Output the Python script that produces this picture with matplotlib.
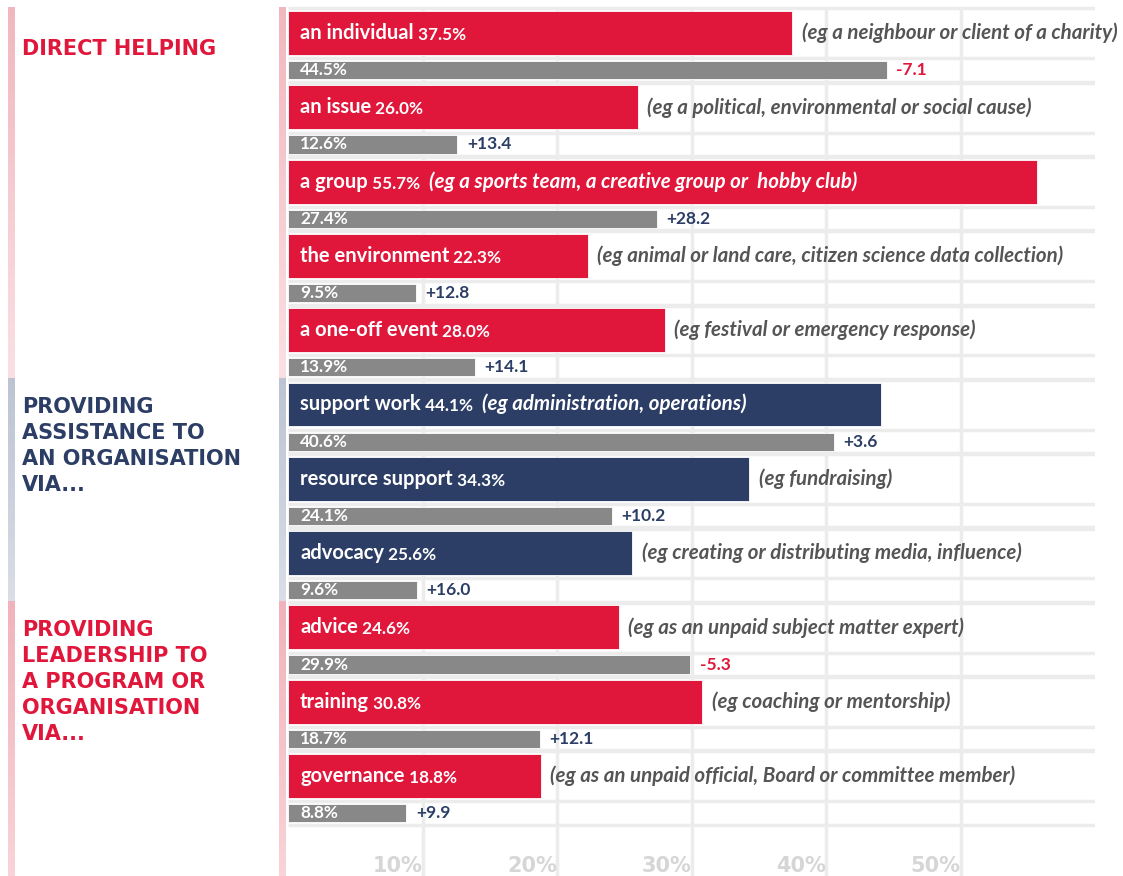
import matplotlib
matplotlib.use("Agg")
import matplotlib.pyplot as plt
from matplotlib.patches import Rectangle
from matplotlib.transforms import blended_transform_factory
import numpy as np

# data
categories = ["an individual", "an issue", "a group", "the environment", "a one-off event",
              "support work", "resource support", "advocacy",
              "advice", "training", "governance"]
current = [37.5, 26.0, 55.7, 22.3, 28.0, 44.1, 34.3, 25.6, 24.6, 30.8, 18.8]
previous = [44.5, 12.6, 27.4, 9.5, 13.9, 40.6, 24.1, 9.6, 29.9, 18.7, 8.8]
change = [-7.1, 13.4, 28.2, 12.8, 14.1, 3.6, 10.2, 16.0, -5.3, 12.1, 9.9]
examples = ["(eg a neighbour or client of a charity)",
            "(eg a political, environmental or social cause)",
            "(eg a sports team, a creative group or  hobby club)",
            "(eg animal or land care, citizen science data collection)",
            "(eg festival or emergency response)",
            "(eg administration, operations)",
            "(eg fundraising)",
            "(eg creating or distributing media, influence)",
            "(eg as an unpaid subject matter expert)",
            "(eg coaching or mentorship)",
            "(eg as an unpaid official, Board or committee member)"]
sections = ["DIRECT HELPING",
            "PROVIDING\nASSISTANCE TO\nAN ORGANISATION\nVIA...",
            "PROVIDING\nLEADERSHIP TO\nA PROGRAM OR\nORGANISATION\nVIA..."]
section_sizes = [5, 3, 3]
ticks = [10, 20, 30, 40, 50]

RED = "#e0163b"
NAVY = "#2c3e66"
GREY = "#888888"
section_colors = [RED, NAVY, RED]
stripe_colors = [("#f0b7be", "#fadfe2"), ("#bcc4d1", "#d8dde6"), ("#f0b3bb", "#f8d3d7")]

W, H = 1123, 876
fig = plt.figure(figsize=(W / 100, H / 100), dpi=100)
ax = fig.add_axes([288 / W, 0, (1095 - 288) / W, 1])
ax.set_xlim(0, 60)
ax.set_ylim(11.346, -0.444)
ax.axis("off")

n = len(categories)
y = np.arange(n)

# grid
ax.vlines(ticks, -0.33, 11.4, color="#ececec", lw=2.5, zorder=0)
for yy in y:
    for off in (-0.33, 0.34, 0.655):
        ax.hlines(yy + off, 0, 60, color="#ececec", lw=2.5, zorder=0)

bar_colors = []
for c, s in zip(section_colors, section_sizes):
    bar_colors += [c] * s

bars = ax.barh(y, current, height=0.59, color=bar_colors, edgecolor="#ffffff", lw=0.6, zorder=2)
ax.barh(y + 0.5, previous, height=0.245, color=GREY, edgecolor="#ffffff", lw=0.6, zorder=2)

fam = ["Lato", "DejaVu Sans"]
fig.canvas.draw()
renderer = fig.canvas.get_renderer()

for i in range(n):
    t1 = ax.text(0.9, y[i], categories[i], color="white", fontsize=14.5, fontweight="bold",
                 family=fam, va="center", ha="left", zorder=3)
    t2 = ax.annotate(" %.1f%%" % current[i], xy=(1, 0), xycoords=t1, va="bottom", ha="left",
                     color="white", fontsize=12.3, fontweight="bold", family=fam, zorder=3)
    d = ax.text(current[i] + 0.7, y[i], examples[i], color="#555555", fontsize=14.8,
                fontweight="bold", style="italic", family=fam, va="center", ha="left", zorder=3)
    # put the example inside the bar when it would run off the page and fits in the bar
    if d.get_window_extent(renderer).x1 > W:
        inner = ax.annotate("  " + examples[i], xy=(1, 0), xycoords=t2, va="bottom", ha="left",
                            color="white", fontsize=14.8, fontweight="bold", style="italic",
                            family=fam, zorder=3)
        if inner.get_window_extent(renderer).x1 < bars[i].get_window_extent(renderer).x1:
            d.remove()
        else:
            inner.remove()
    ax.text(0.9, y[i] + 0.5, "%.1f%%" % previous[i], color="white", fontsize=12.3,
            fontweight="bold", family=fam, va="center", ha="left", zorder=3)
    ax.text(previous[i] + 0.7, y[i] + 0.5, "%+.1f" % change[i],
            color=RED if change[i] < 0 else NAVY, fontsize=12.5, fontweight="bold",
            family=fam, va="center", ha="left", zorder=3)

for t in ticks:
    ax.text(t, 11.08, "%d%%" % t, color="#d6d6d6", fontsize=15, fontweight="bold",
            ha="right", va="top", zorder=1)

# section headers and stripes
blend = blended_transform_factory(fig.transFigure, ax.transData)
start = 0
for k, (name, size) in enumerate(zip(sections, section_sizes)):
    top = start - 0.35
    bottom = start + size - 0.35 if k < len(sections) - 1 else 11.4
    c0 = np.array(matplotlib.colors.to_rgb(stripe_colors[k][0]))
    c1 = np.array(matplotlib.colors.to_rgb(stripe_colors[k][1]))
    steps = 40
    h = (bottom - top) / steps
    for j in range(steps):
        col = c0 + (c1 - c0) * j / (steps - 1)
        for x0, wd in ((8 / W, 7 / W), (279 / W, 7 / W)):
            ax.add_patch(Rectangle((x0, top + j * h), wd, h * 1.02, transform=blend,
                                   facecolor=col, edgecolor="none", clip_on=False))
    ty = start - 0.1 if "\n" in name else start + 0.08
    ax.text(22 / W, ty, name, transform=blend, color=section_colors[k],
            fontsize=15, fontweight="bold", family="DejaVu Sans", va="top",
            ha="left", linespacing=1.38)
    start += size

fig.savefig("out.png", dpi=100)
